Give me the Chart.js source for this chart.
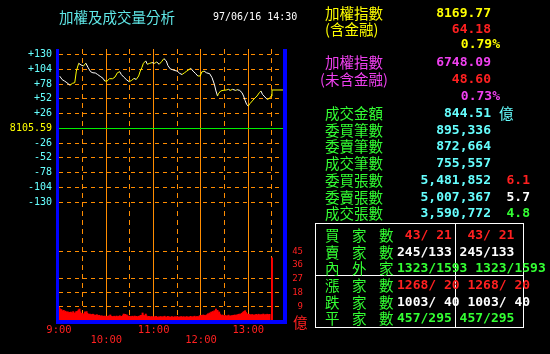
<!DOCTYPE html>
<html>
<head>
<meta charset="utf-8">
<script src="https://cdn.jsdelivr.net/npm/chart.js"></script>
<style>
html, body { margin:0; padding:0; background:#000; width:550px; height:354px; overflow:hidden; }
#wrap { position:relative; width:550px; height:354px; }
canvas { position:absolute; left:0; top:0; }
.t { position:absolute; height:20px; line-height:20px; white-space:pre; }
.cjk { font-family:"Noto Sans CJK TC", sans-serif; font-size:14.5px; }
.num { font-family:"DejaVu Sans Mono", monospace; font-size:13px; font-weight:bold; }
.sm { font-family:"DejaVu Sans Mono", monospace; font-size:10px; }
.sp { letter-spacing:12.5px; }
.ln { position:absolute; background:#fff; }
</style>
</head>
<body>
<div id="wrap"><canvas id="c" width="310" height="354"></canvas></div>
<script>
// prior close, the upper chart is drawn as change from it
var baseIndex = "8105.59";

// index change vs prior close, x = minutes after 9:00
var idxMinutes = [1, 4, 7, 10, 14, 17, 20, 22, 25, 28, 31, 34, 37, 40, 43, 46, 49, 53, 56, 58,
  61, 64, 68, 71, 74, 77, 79, 82, 86, 89, 92, 95, 98, 101, 103, 105, 107, 110, 112, 115,
  118, 121, 124, 127, 130, 133, 136, 138, 141, 144, 147, 150, 153, 156, 159, 162, 165, 167, 170, 173,
  176, 179, 181, 184, 187, 191, 194, 197, 199, 201, 202, 205, 208, 212, 215, 217, 220, 224, 226, 229,
  232, 234, 236, 238, 240, 242, 245, 248, 251, 254, 256, 258, 261, 264, 267, 269, 270, 284];
var idxChange = [92, 86, 83.5, 80.6, 76, 79.4, 80.6, 101, 114.7, 111.8, 110, 115, 107, 100, 98, 97.7, 95, 91, 88, 83.5,
  83.5, 87.6, 87.6, 90.6, 98, 100, 95, 90.6, 85.3, 82.3, 84.6, 88, 86.4, 92.4, 101, 107, 114.7, 119, 113, 114.7,
  116, 114.7, 117, 113, 117.6, 123, 119, 111, 105, 103.5, 102, 101, 97, 95, 98, 101, 104, 106, 101, 97,
  92.4, 92.4, 99.5, 101, 98, 96.5, 89.5, 77.6, 66, 57, 61, 66, 67, 67.7, 68.8, 67, 68.8, 67, 68.2, 67,
  63, 57, 49, 42, 39.4, 43.5, 48.3, 53, 57, 63, 66, 60, 55.5, 51, 53, 57, 67.7, 67.7];

// volume per minute (億), index = minutes after 9:00
var volPerMinute = [
  8.3, 7.4, 6.6, 6.9, 6.0, 5.6, 6.3, 5.1, 5.8, 5.3,
  4.9, 5.4, 4.6, 5.0, 4.4, 5.2, 4.7, 4.3, 5.5, 4.6,
  4.1, 4.8, 5.6, 4.5, 5.9, 6.6, 7.2, 5.4, 4.3, 3.9,
  4.2, 3.6, 4.0, 5.3, 4.7, 5.5, 4.4, 3.8, 3.5, 3.9,
  3.3, 3.6, 3.1, 3.8, 3.4, 2.9, 3.2, 2.8, 3.5, 3.0,
  2.7, 3.1, 2.6, 2.4, 2.8, 2.2, 2.5, 2.0, 2.6, 2.3,
  1.9, 2.4, 2.1, 2.7, 2.2, 3.3, 2.5, 1.8, 2.3, 2.0,
  2.5, 1.7, 2.2, 2.6, 1.9, 2.3, 2.1, 2.8, 2.0, 2.4,
  2.2, 2.9, 3.9, 3.4, 3.7, 3.1, 3.3, 2.5, 2.1, 2.6,
  1.8, 2.3, 2.0, 2.5, 1.7, 2.2, 2.6, 1.9, 2.4, 2.1,
  1.8, 2.5, 2.2, 2.8, 3.1, 2.6, 4.6, 3.2, 2.4, 2.9,
  3.9, 2.7, 2.2, 1.8, 2.4, 2.0, 1.6, 2.3, 1.9, 2.1,
  1.5, 2.2, 1.8, 2.4, 1.6, 2.0, 1.4, 2.1, 1.7, 2.3,
  1.9, 1.5, 2.2, 1.7, 2.5, 1.8, 1.4, 2.0, 2.4, 1.6,
  2.1, 1.8, 1.4, 2.3, 1.7, 2.0, 1.5, 2.2, 1.9, 1.6,
  2.4, 1.8, 1.5, 2.1, 1.7, 2.3, 1.4, 1.9, 2.2, 1.6,
  2.0, 1.5, 2.3, 1.8, 1.6, 2.1, 1.7, 2.4, 1.9, 1.5,
  2.2, 1.8, 2.5, 1.6, 2.0, 2.3, 1.8, 2.1, 2.6, 2.9,
  2.4, 3.1, 2.7, 3.3, 2.8, 3.0, 2.5, 3.2, 3.5, 4.1,
  3.7, 4.6, 3.9, 5.2, 4.4, 5.6, 4.8, 6.1, 5.4, 7.2,
  5.0, 6.3, 4.5, 5.3, 3.9, 3.1, 2.7, 3.3, 2.5, 2.9,
  2.4, 3.0, 2.6, 2.2, 2.8, 3.2, 2.4, 2.7, 2.3, 2.9,
  2.6, 3.1, 2.5, 3.3, 2.8, 3.0, 3.5, 3.2, 3.8, 3.4,
  4.0, 3.6, 4.4, 4.9, 5.3, 5.7, 6.1, 5.0, 4.2, 3.7,
  3.3, 3.8, 3.1, 3.5, 2.9, 3.6, 3.2, 2.8, 3.4, 3.0,
  3.7, 2.9, 3.3, 3.8, 3.1, 3.5, 2.8, 3.6, 3.2, 3.9,
  3.4, 3.0, 3.6, 3.2, 3.8, 3.3, 3.5, 3.7
];
var closeMinute = 270;
var closeVolume = 40.7;

// ticks
var idxTicks = [-130, -104, -78, -52, -26, 0, 26, 52, 78, 104, 130];
var volTicks = [9, 18, 27, 36, 45];
var timeTicks = [0, 30, 60, 90, 120, 150, 180, 210, 240, 270];
var timeLabels = { 0: "9:00", 60: ["", "10:00"], 120: "11:00", 180: ["", "12:00"], 240: "13:00" };

var orange = "#ff8c00";

var idxPoints = idxMinutes.map(function (m, i) { return { x: m, y: idxChange[i] }; });
var volPoints = volPerMinute.map(function (v, i) { return { x: i, y: v }; });
volPoints.push({ x: closeMinute, y: closeVolume });

var frame = {
  id: "frame",
  afterDraw: function (chart) {
    var a = chart.chartArea, c = chart.ctx;
    c.save();
    c.fillStyle = "#0000ff";
    c.fillRect(a.left - 3, a.top, 3, a.bottom - a.top + 4);
    c.fillRect(a.right, a.top, 4, a.bottom - a.top + 4);
    c.fillRect(a.left - 3, a.bottom, a.right - a.left + 7, 4);
    c.restore();
  }
};

new Chart(document.getElementById("c"), {
  data: {
    datasets: [{
      type: "line",
      data: idxPoints,
      yAxisID: "y",
      borderWidth: 1,
      pointRadius: 0,
      tension: 0,
      borderColor: "#ffff00",
      segment: {
        borderColor: function (ctx) { return ctx.p1.parsed.y >= ctx.p0.parsed.y ? "#ffff00" : "#ffffff"; }
      }
    }, {
      type: "bar",
      data: volPoints,
      yAxisID: "yv",
      backgroundColor: "#ff0000",
      barThickness: 1.3,
      borderWidth: 0
    }]
  },
  options: {
    responsive: false,
    animation: false,
    devicePixelRatio: 1,
    layout: { padding: { top: 49, right: 7, left: 0, bottom: 0 } },
    plugins: { legend: { display: false }, tooltip: { enabled: false } },
    scales: {
      x: {
        type: "linear",
        offset: false,
        min: 0, max: 284,
        afterBuildTicks: function (s) { s.ticks = timeTicks.map(function (v) { return { value: v }; }); },
        afterFit: function (s) { s.height = 34; },
        grid: {
          offset: false,
          drawTicks: false,
          color: function (ctx) { return ctx.tick && ctx.tick.value === 0 ? "rgba(0,0,0,0)" : orange; },
          lineWidth: 1
        },
        border: {
          display: false,
          dash: function (ctx) { return ctx.tick && ctx.tick.value % 60 === 30 ? [5, 4] : []; }
        },
        ticks: {
          autoSkip: false, maxRotation: 0, padding: 5,
          color: "#ff2020",
          font: { family: "DejaVu Sans Mono", size: 10.5, lineHeight: 1.0 },
          callback: function (v) { return timeLabels[v] || ""; }
        }
      },
      y: {
        position: "left",
        min: -338, max: 140,
        afterBuildTicks: function (s) { s.ticks = idxTicks.map(function (v) { return { value: v }; }); },
        afterFit: function (s) { s.width = 59; },
        grid: {
          drawTicks: false,
          color: function (ctx) { return ctx.tick && ctx.tick.value === 0 ? "#00ee00" : orange; }
        },
        border: {
          display: false,
          dash: function (ctx) { return ctx.tick && ctx.tick.value === 0 ? [] : [4, 4]; }
        },
        ticks: {
          padding: 7,
          font: { family: "DejaVu Sans Mono", size: 10 },
          color: function (ctx) { return ctx.tick.value === 0 ? "#ffff00" : "#66ffff"; },
          callback: function (v) { return v === 0 ? baseIndex : (v > 0 ? "+" + v : String(v)); }
        }
      },
      yv: {
        position: "right",
        min: 0, max: 177.5,
        afterBuildTicks: function (s) { s.ticks = volTicks.map(function (v) { return { value: v }; }); },
        afterFit: function (s) { s.width = 20; },
        grid: {
          drawTicks: false,
          color: function (ctx) { return ctx.tick && ctx.tick.value === 36 ? "rgba(0,0,0,0)" : orange; }
        },
        border: { display: false, dash: [4, 4] },
        ticks: {
          crossAlign: "far",
          color: "#ff2020",
          font: { family: "DejaVu Sans Mono", size: 9 }
        }
      }
    }
  },
  plugins: [frame]
});

// text around the chart
var wrap = document.getElementById("wrap");
function put(txt, x, cy, color, cls, right) {
  var d = document.createElement("div");
  d.className = "t " + cls;
  d.textContent = txt;
  d.style.top = (cy - 10) + "px";
  if (right) d.style.right = (550 - x) + "px"; else d.style.left = x + "px";
  d.style.color = color;
  wrap.appendChild(d);
}
function line(x, y, w, h) {
  var d = document.createElement("div");
  d.className = "ln";
  d.style.left = x + "px"; d.style.top = y + "px";
  d.style.width = w + "px"; d.style.height = h + "px";
  wrap.appendChild(d);
}

var yellow = "#ffff00", red = "#ff2020", magenta = "#f040f0", green = "#33ff33", cyan = "#66ffff", white = "#ffffff";

put("加權及成交量分析", 59, 16.5, "#5fe6e6", "cjk");
put("97/06/16 14:30", 213, 16.5, white, "sm");
put("億", 293, 321.5, red, "cjk");

put("加權指數", 325, 13, yellow, "cjk");
put("8169.77", 491, 13, yellow, "num", true);
put("(含金融)", 325, 28.5, yellow, "cjk");
put("64.18", 491, 28.5, red, "num", true);
put("0.79%", 500, 44, yellow, "num", true);
put("加權指數", 325, 61.5, magenta, "cjk");
put("6748.09", 491, 61.5, magenta, "num", true);
put("(未含金融)", 320, 79, magenta, "cjk");
put("48.60", 491, 79, red, "num", true);
put("0.73%", 500, 95.5, magenta, "num", true);

var statLabels = ["成交金額", "委買筆數", "委賣筆數", "成交筆數", "委買張數", "委賣張數", "成交張數"];
var statValues = ["844.51", "895,336", "872,664", "755,557", "5,481,852", "5,007,367", "3,590,772"];
var statRatios = ["", "", "", "", "6.1", "5.7", "4.8"];
var ratioColors = ["", "", "", "", red, white, green];
statLabels.forEach(function (lab, i) {
  var cy = 113 + i * 16.7;
  put(lab, 325, cy, green, "cjk");
  put(statValues[i], 491, cy, cyan, "num", true);
  if (statRatios[i]) put(statRatios[i], 530, cy, ratioColors[i], "num", true);
});
put("億", 499, 113, cyan, "cjk");

// breadth table
line(315, 223, 209, 1);
line(315, 327, 209, 1);
line(315, 223, 1, 105);
line(523, 223, 1, 105);
line(315, 275, 209, 1);
line(455, 223, 1, 105);
var rowLabels = ["買家數", "賣家數", "內外家", "漲家數", "跌家數", "平家數"];
var rowValues = [" 43/ 21  43/ 21", "245/133 245/133", "1323/1593 1323/1593", "1268/ 20 1268/ 20", "1003/ 40 1003/ 40", "457/295 457/295"];
var rowColors = [red, white, green, red, white, green];
var rowY = [235, 251.5, 268, 285, 301.5, 318];
rowLabels.forEach(function (lab, i) {
  put(lab, 325, rowY[i], green, "cjk sp");
  put(rowValues[i], 397, rowY[i], rowColors[i], "num");
});
</script>
</body>
</html>
